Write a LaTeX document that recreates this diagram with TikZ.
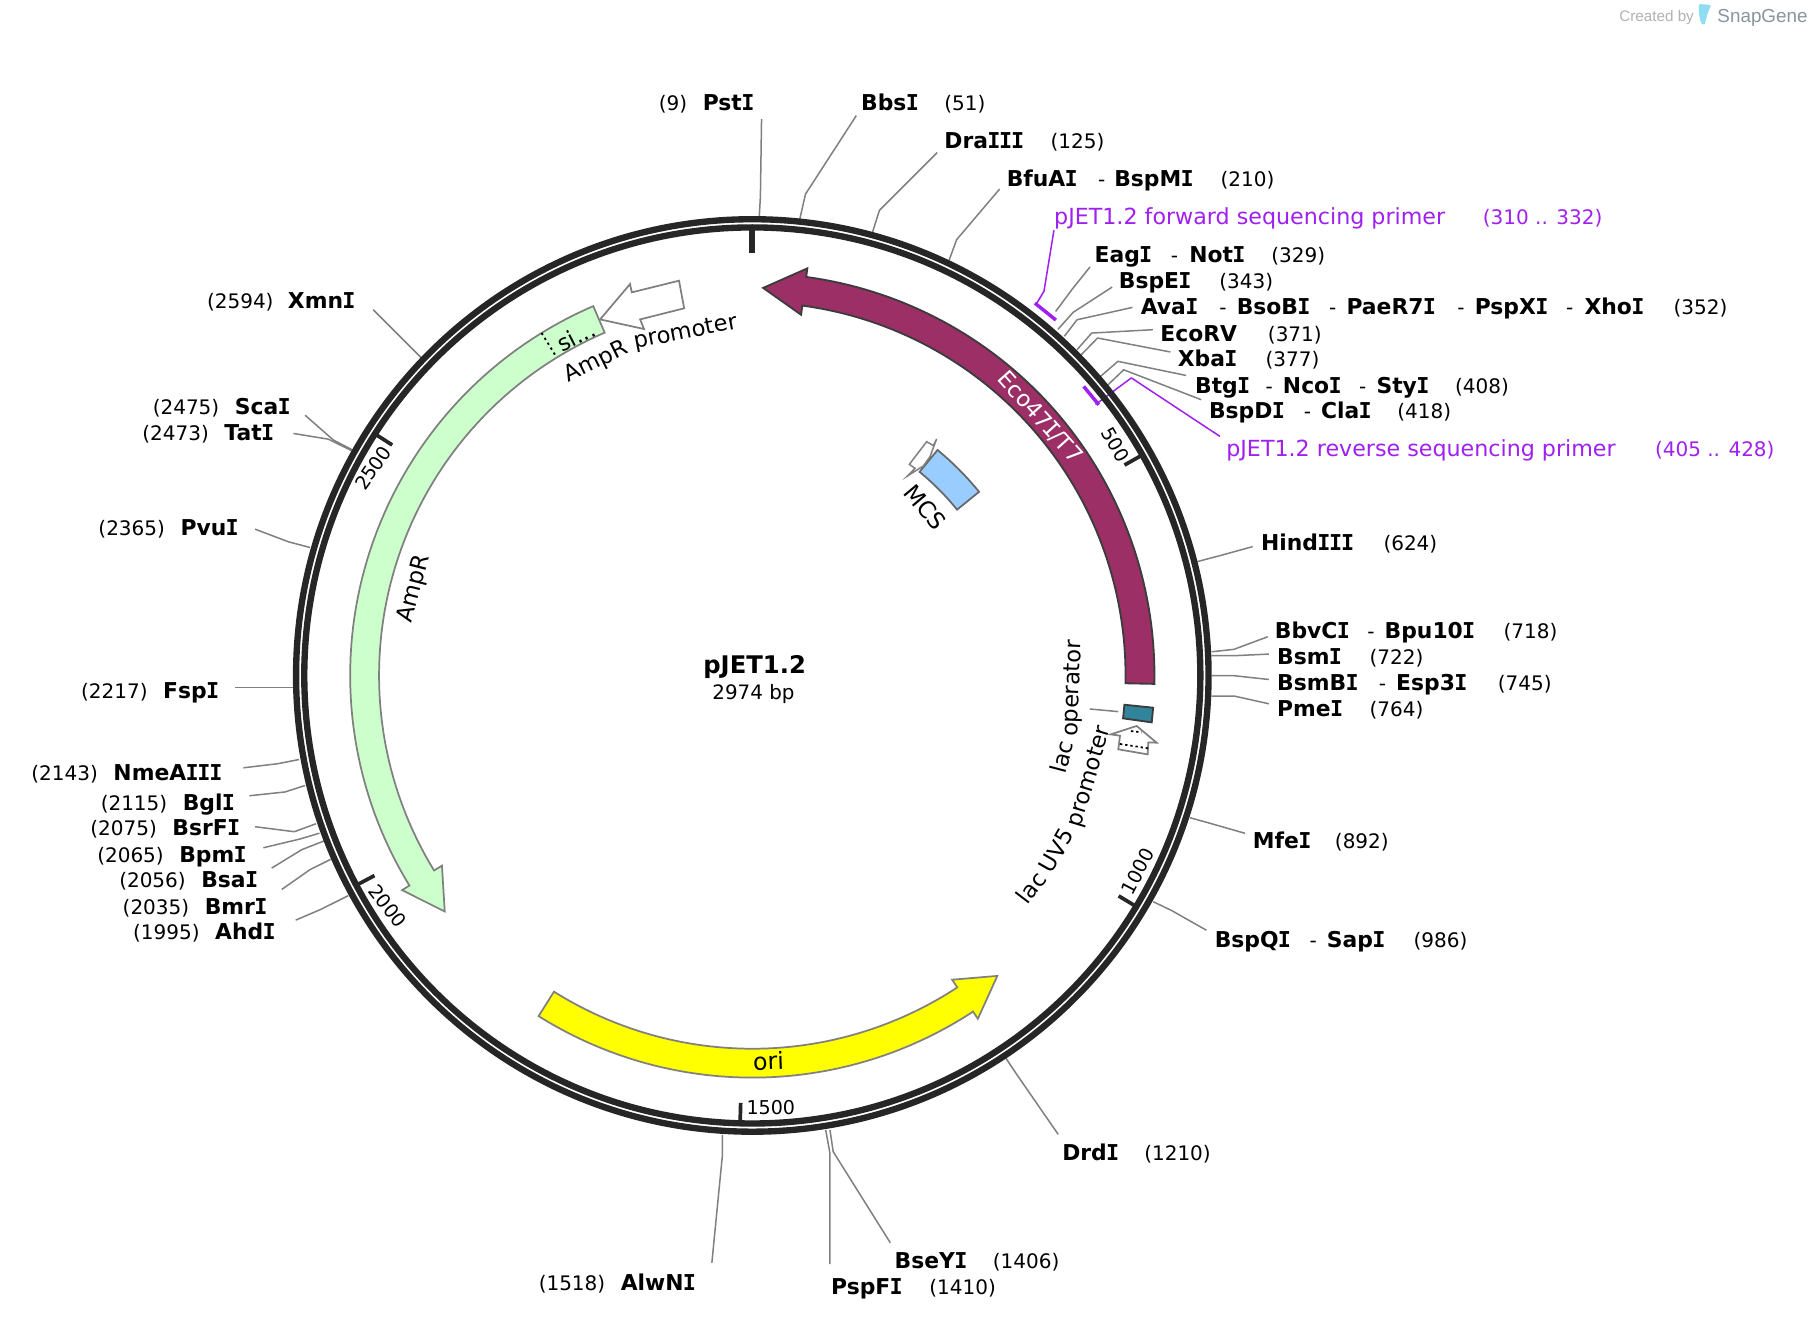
\documentclass[tikz,border=0pt]{standalone}
\usepackage{fontspec}
\setmainfont{DejaVu Sans}
\newfontfamily\monoi{DejaVu Sans Mono}
\newfontfamily\logofont{Liberation Sans}
\definecolor{ringc}{HTML}{262626}
\definecolor{leaderc}{HTML}{808080}
\definecolor{primerc}{HTML}{A020F0}
\definecolor{ampc}{HTML}{CCFFCC}
\definecolor{ecoc}{HTML}{9B2F66}
\definecolor{opc}{HTML}{31849B}
\definecolor{mcsc}{HTML}{99CCFF}
\definecolor{oric}{HTML}{FFFF00}
\definecolor{logoc}{HTML}{8A949E}
\definecolor{iconc}{HTML}{8FDCF5}
\newcommand\sI{\kern-.03em{\monoi\bfseries I}\kern-.03em}
\newcommand\rI{\kern-.09em{\monoi I}\kern-.09em}
\newcommand\bd[1]{{\fontsize{18.9}{22}\selectfont\bfseries #1}}
\newcommand\seg[2]{\makebox[#1pt][l]{#2}}
\newcommand\lab[4]{\node[lab] (#1) at (#2,#3) {#4};}
\newcommand\plab[4]{\node[lab,text=primerc] (#1) at (#2,#3) {#4};}
\newcommand\nm[1]{{\fontsize{19.2}{22}\selectfont #1}}
\newcommand\ldr[4]{\coordinate (#1a) at (#2); \coordinate (#1b) at (#3); \coordinate (#1c) at (#4); \draw[leader] (#1a) -- (#1b) -- (#1c);}
\newcommand\bandpath[3]{plot[domain=#1:#2,samples=70] ({\x-90}:348) -- ({#2-90}:355.5) -- ({#3-90}:335.5) -- ({#2-90}:315) -- plot[domain=#2:#1,samples=70] ({\x-90}:323) -- cycle}
% word on the circle, tops outward (reads clockwise)
\newcommand\cwlab[4]{\node[arclab,rotate={-(#2)}] (#1) at ({#2-90}:#3) {#4};}
% word on the circle, tops inward (reads counter-clockwise)
\newcommand\ccwlab[4]{\node[arclab,rotate={180-(#2)}] (#1) at ({#2-90}:#3) {#4};}
\tikzset{
  lab/.style={anchor=base west,inner sep=0pt,yshift=-7.3pt,font=\fontsize{17.3}{20}\selectfont},
  leader/.style={draw=leaderc,line width=1.3pt,line join=round},
  primerline/.style={draw=primerc,line width=1.3pt,line join=round},
  primerbar/.style={draw=primerc,line width=3pt},
  ringline/.style={draw=ringc,line width=5.5pt},
  tickm/.style={draw=ringc,line width=3.2pt},
  ticklab/.style={font=\fontsize{16.5}{19}\selectfont,inner sep=0pt},
  featlab/.style={font=\fontsize{19.5}{22}\selectfont,inner sep=0pt},
  arclab/.style={font=\fontsize{19.5}{22}\selectfont,inner sep=0pt,anchor=base},
  feat/.style={draw=#1,line width=1.5pt,line join=miter},
  feat/.default=gray
}
\begin{document}
\begin{tikzpicture}[x=1pt,y=-1pt]
\useasboundingbox (0,0) rectangle (1568,1142.3);
\fill[white] (0,0) rectangle (1568,1142.3);

% leaders (under the ring)
\ldr{lpst}{659,103}{658,170}{657,188}
\ldr{lbbs}{741,100}{697,168}{692,190}
\ldr{ldra}{811,132}{761,182}{755,201}
\ldr{lbfu}{865,163.6}{827.8,207.4}{821,226}
\ldr{leag}{943.2,231}{928,250}{913.5,269.5}
\ldr{lbspe}{962.4,248.4}{928.6,270.3}{915.5,285}
\ldr{lava}{980,266}{932,276.7}{921,291}
\ldr{leco}{997.6,285.3}{944.7,288.2}{932,302.6}
\ldr{lxba}{1012.8,304.6}{949.8,292.5}{935.6,307}
\ldr{lbtg}{1026.4,324.9}{967.4,312.7}{952.3,325.7}
\ldr{lbspd}{1039.5,345.9}{972.4,320}{957.3,334.4}
\ldr{lhin}{1084,473}{1055,481}{1036,486}
\ldr{lbbv}{1097,551}{1067.8,561.9}{1048.5,564}
\ldr{lbsm}{1098,566}{1067.8,567.4}{1048.5,567.4}
\ldr{lbsb}{1098,588}{1067.8,584.7}{1048.5,584.7}
\ldr{lpme}{1098,609}{1067.8,602.3}{1048.5,602.3}
\ldr{lmfe}{1077.4,721.1}{1045.6,712}{1029.7,707.6}
\ldr{lbsq}{1044,805}{1014,788}{998,780.3}
\ldr{ldrd}{915.7,981.6}{880,930}{870,915}
\ldr{lbse}{770.4,1075.4}{721,996.6}{718.2,977.8}
\ldr{lpsp}{718.2,1093.8}{718.2,998}{714.5,977.8}
\ldr{lalw}{616,1092.7}{625,1001}{625,982}
\ldr{lxmn}{323,268}{350,295}{365,310}
\ldr{lsca}{264,359.3}{288.5,380.8}{304.4,389}
\ldr{ltat}{253.9,375.1}{284,380}{304.4,390}
\ldr{lpvu}{220.7,457.9}{249.5,468.8}{268.3,473.8}
\ldr{lfsp}{203.4,595}{230,595}{254,595}
\ldr{lnme}{210.6,664.4}{240.9,660.8}{258.8,657.2}
\ldr{lbgl}{215.8,688.6}{246.7,685.3}{264,679.7}
\ldr{lbsr}{220.7,715.4}{254.7,719.7}{273.5,712.8}
\ldr{lbpm}{227.9,733.6}{259.7,726}{276.4,721}
\ldr{lbsa}{235.1,751.2}{261,735.3}{280.4,727.7}
\ldr{lbmr}{243.8,769.7}{268.3,752.5}{286.2,743.6}
\ldr{lahd}{255.9,796.2}{277,787.2}{301.5,775}

% primers
\coordinate (pfa) at (912,199.3); \coordinate (pfb) at (903.4,252); \coordinate (pfc) at (896.8,263);
\draw[primerline] (pfa) -- (pfb) -- (pfc);
\coordinate (pra) at (1055.6,377.6); \coordinate (prb) at (979,327); \coordinate (prc) at (948,350);
\draw[primerline] (pra) -- (prb) -- (prc);

\begin{scope}[shift={(651,584.5)}]
  % ring
  \draw[ringline] (0,0) circle[radius=394.8pt];
  \draw[ringline] (0,0) circle[radius=387.7pt];
  % primer bars
  \draw[primerbar] (37.2-90:404.5) -- (40.5-90:404.5);
  \draw[primerbar] (48.9-90:380.5) -- (52-90:380.5);
  % ticks
  \draw[draw=ringc,line width=5pt] (-90:366) -- (-90:388);
  \foreach \a in {60.52,121.04,181.56,242.09,302.62}{\draw[tickm] ({\a-90}:370) -- ({\a-90}:387);}
  % band features
  \draw[draw=ringc!90,line width=1.6pt,fill=ecoc] \bandpath{91.2}{7.7}{1.6};
  \draw[feat,fill=ampc] \bandpath{-23.3}{-121.5}{-127.5};
  \draw[feat,fill=oric] \bandpath{212.1}{146.7}{140.8};
  \draw[black,line width=1.6pt,dash pattern=on 2pt off 3pt] (-31.6-90:348) -- (-31.6-90:323);
  \draw[draw=ringc!90,line width=1.6pt,fill=opc] (94.5-90:323) -- (94.6-90:348) -- (96.7-90:348) -- (96.6-90:323) -- cycle;
  \draw[draw=ringc!70,line width=1.5pt,fill=mcsc] plot[domain=39.4:51,samples=12] ({\x-90}:252.5) -- plot[domain=51:39.4,samples=12] ({\x-90}:228) -- cycle;
  % labels set on the circle
  \cwlab{amppa}{-26.5}{297.5}{AmpR}
  \cwlab{amppb}{-11}{297}{promoter}
  \cwlab{amp}{-75.6}{296.5}{\fontsize{20}{22}\selectfont AmpR}
  \ccwlab{lacua}{127.3}{310.5}{lac}
  \ccwlab{lacub}{119.9}{310.5}{UV5}
  \ccwlab{lacuc}{106.7}{310}{promoter}
  \ccwlab{lacoa}{104.8}{284}{lac}
  \ccwlab{lacob}{92.3}{283}{operator}
  \cwlab{eco47}{48.1}{328}{\textcolor{white}{Eco47\rI/T7}}
\end{scope}

% small arrows
\draw[feat,fill=white] (519.3,276.4) -- (545.2,245.8) -- (546.7,253) -- (587.6,242.9) -- (592,266.8) -- (553.9,276.4) -- (557.3,284.7) -- cycle;
\draw[feat,fill=white] (967.7,648.4) -- (993.1,652.8) -- (993.7,642.4) -- (1000.9,642.7) -- (983.6,628.2) -- (961.1,635.5) -- (969.2,636.6) -- cycle;
\draw[black,line width=1.5pt,dash pattern=on 2pt off 2.5pt] (969.2,643.8) -- (993.7,647.6);
\draw[black,line width=1.5pt,dash pattern=on 2pt off 2.5pt] (978.7,632.6) -- (987.9,633.7);
\draw[feat,fill=white,line width=1.3pt] (786.9,401.8) -- (801.9,382.2) -- (807.7,385.6) -- (810.5,379.8) -- (804.8,395.1) -- (799,403.2) -- (785.2,411.9) -- (791.8,405.2) -- cycle;
\coordinate (opa) at (943,613.5); \coordinate (opb) at (967.7,615.8);
\draw[leader] (opa) -- (opb);

% feature labels
\node[featlab,rotate=27] (si) at (498.5,291) {si...};
\node[featlab,rotate=-50,font=\fontsize{20}{22}\selectfont] (mcs) at (800.5,439) {MCS};
\node[featlab,rotate=2,font=\fontsize{20.5}{22}\selectfont] (ori) at (665,918) {ori};
\node[ticklab,rotate=-60] (t500) at (965,384.5) {500};
\node[ticklab,rotate=62] (t1000) at (984.5,754) {1000};
\node[ticklab] (t1500) at (667,958.5) {1500};
\node[ticklab,rotate=-52] (t2000) at (335.5,784) {2000};
\node[ticklab,rotate=55] (t2500) at (323,405) {2500};
\node[inner sep=0pt,font=\fontsize{21}{24}\selectfont\bfseries] (pname) at (653,577) {pJET1.2};
\node[inner sep=0pt,font=\fontsize{17.2}{20}\selectfont] (psize) at (652,600.5) {2974 bp};

% site labels
\lab{pst}{570}{88}{\seg{38}{(9)}\bd{Pst\sI}}
\lab{bbs}{745}{88}{\seg{72}{\bd{Bbs\sI}}(51)}
\lab{dra}{817}{121}{\seg{92}{\bd{Dra\sI\sI\sI}}(125)}
\lab{bfu}{871}{154}{\seg{79}{\bd{BfuA\sI}}\seg{14}{-}\seg{92}{\bd{BspM\sI}}(210)}
\plab{pjf}{912}{187}{\seg{371}{\nm{pJET1.2 forward sequencing primer}}(310 .. 332)}
\lab{eag}{947}{220}{\seg{66}{\bd{Eag\sI}}\seg{16}{-}\seg{71}{\bd{Not\sI}}(329)}
\lab{bspe}{968}{242}{\seg{87}{\bd{BspE\sI}}(343)}
\lab{ava}{987}{265}{\seg{68}{\bd{Ava\sI}}\seg{15}{-}\seg{80}{\bd{BsoB\sI}}\seg{15}{-}\seg{96}{\bd{PaeR7\sI}}\seg{15}{-}\seg{79}{\bd{PspX\sI}}\seg{16}{-}\seg{77}{\bd{Xho\sI}}(352)}
\lab{eco}{1004}{288}{\seg{93}{\bd{EcoRV}}(371)}
\lab{xba}{1019}{310}{\seg{76}{\bd{Xba\sI}}(377)}
\lab{btg}{1034}{333}{\seg{61}{\bd{Btg\sI}}\seg{15}{-}\seg{66}{\bd{Nco\sI}}\seg{15}{-}\seg{68}{\bd{Sty\sI}}(408)}
\lab{bspd}{1046}{355}{\seg{82}{\bd{BspD\sI}}\seg{15}{-}\seg{66}{\bd{Cla\sI}}(418)}
\plab{pjr}{1061}{388}{\seg{371}{\nm{pJET1.2 reverse sequencing primer}}(405 .. 428)}
\lab{hin}{1091}{469}{\seg{106}{\bd{Hind\sI\sI\sI}}(624)}
\lab{bbv}{1103}{545}{\seg{80}{\bd{BbvC\sI}}\seg{15}{-}\seg{103}{\bd{Bpu10\sI}}(718)}
\lab{bsm}{1105}{568}{\seg{80}{\bd{Bsm\sI}}(722)}
\lab{bsmb}{1105}{590}{\seg{88}{\bd{BsmB\sI}}\seg{15}{-}\seg{88}{\bd{Esp3\sI}}(745)}
\lab{pme}{1105}{613}{\seg{80}{\bd{Pme\sI}}(764)}
\lab{mfe}{1084}{727}{\seg{71}{\bd{Mfe\sI}}(892)}
\lab{bspq}{1051}{813}{\seg{82}{\bd{BspQ\sI}}\seg{15}{-}\seg{75}{\bd{Sap\sI}}(986)}
\lab{drd}{919}{997}{\seg{71}{\bd{Drd\sI}}(1210)}
\lab{bse}{774}{1090}{\seg{85}{\bd{BseY\sI}}(1406)}
\lab{psp}{719}{1113}{\seg{85}{\bd{PspF\sI}}(1410)}
\lab{alw}{466}{1109}{\seg{71}{(1518)}\bd{AlwN\sI}}
\lab{xmn}{179}{260}{\seg{70}{(2594)}\bd{Xmn\sI}}
\lab{sca}{132}{351}{\seg{71}{(2475)}\bd{Sca\sI}}
\lab{tat}{123}{374}{\seg{71}{(2473)}\bd{Tat\sI}}
\lab{pvu}{85}{456}{\seg{71}{(2365)}\bd{Pvu\sI}}
\lab{fsp}{70}{597}{\seg{71}{(2217)}\bd{Fsp\sI}}
\lab{nme}{27}{668}{\seg{71}{(2143)}\bd{NmeA\sI\sI\sI}}
\lab{bgl}{87}{694}{\seg{71}{(2115)}\bd{Bgl\sI}}
\lab{bsr}{78}{716}{\seg{71}{(2075)}\bd{BsrF\sI}}
\lab{bpm}{84}{739}{\seg{71}{(2065)}\bd{Bpm\sI}}
\lab{bsa}{103}{761}{\seg{71}{(2056)}\bd{Bsa\sI}}
\lab{bmr}{106}{784}{\seg{71}{(2035)}\bd{Bmr\sI}}
\lab{ahd}{115}{806}{\seg{71}{(1995)}\bd{Ahd\sI}}

% logo
\node[anchor=base west,inner sep=0pt,text=black!30,font=\logofont\fontsize{13.2}{16}\selectfont] (made) at (1401,18.5) {Created by};
\fill[iconc,rounded corners=1pt] (1470,3.5) -- (1480.6,4.3) -- (1477.7,11.5) -- (1474.9,21.6) -- (1472,20.2) -- (1470,11.5) -- cycle;
\node[anchor=base west,inner sep=0pt,text=logoc,font=\logofont\fontsize{16.3}{18}\selectfont] (snap) at (1486,19.5) {SnapGene};
\end{tikzpicture}
\end{document}
